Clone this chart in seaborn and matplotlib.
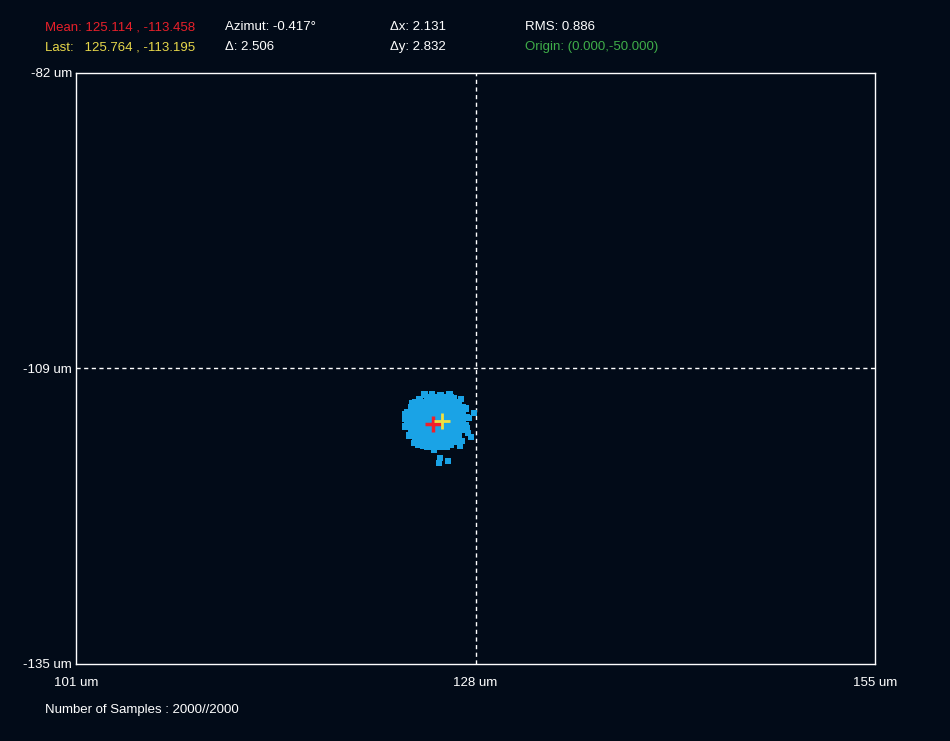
import matplotlib
matplotlib.use("Agg")
import matplotlib.pyplot as plt
import seaborn as sns
import pandas as pd

# ---- data ----
rows_y = [-111.06, -111.50, -111.95, -112.40, -112.85, -113.30,
          -113.75, -114.20, -114.64, -115.09, -115.54]
rows_x = [
    [124.72, 124.99, 125.26, 125.53, 125.80, 126.07, 126.34],
    [123.91, 124.18, 124.45, 124.72, 124.99, 125.26, 125.53, 125.80, 126.07, 126.34, 126.61, 126.88],
    [123.64, 123.91, 124.18, 124.45, 124.72, 124.99, 125.26, 125.53, 125.80, 126.07, 126.34, 126.61, 126.88, 127.15],
    [123.37, 123.64, 123.91, 124.18, 124.45, 124.72, 124.99, 125.26, 125.53, 125.80, 126.07, 126.34, 126.61, 126.88, 127.15],
    [123.37, 123.64, 123.91, 124.18, 124.45, 124.72, 124.99, 125.26, 125.53, 125.80, 126.07, 126.34, 126.61, 126.88, 127.15, 127.42],
    [123.37, 123.64, 123.91, 124.18, 124.45, 124.72, 124.99, 125.26, 125.53, 125.80, 126.07, 126.34, 126.61, 126.88, 127.15],
    [123.64, 123.91, 124.18, 124.45, 124.72, 124.99, 125.26, 125.53, 125.80, 126.07, 126.34, 126.61, 126.88, 127.15],
    [123.64, 123.91, 124.18, 124.45, 124.72, 124.99, 125.26, 125.53, 125.80, 126.07, 126.34, 126.61, 126.88],
    [123.91, 124.18, 124.45, 124.72, 124.99, 125.26, 125.53, 125.80, 126.07, 126.34, 126.61, 126.88],
    [124.18, 124.45, 124.72, 124.99, 125.26, 125.53, 125.80, 126.07, 126.34, 126.61],
    [124.72, 124.99, 125.26, 125.53, 125.80, 126.07],
]
edge_x = [124.55, 125.05, 125.65, 126.25, 126.55, 123.70, 124.20, 123.23, 123.23, 123.50,
          127.32, 127.40, 127.05, 126.95, 124.45, 124.10, 126.35, 126.80, 125.20, 127.55]
edge_y = [-110.85, -110.80, -110.90, -110.80, -111.20, -111.60, -111.25, -112.60, -113.70, -114.50,
          -112.10, -113.90, -115.00, -115.40, -115.45, -115.30, -115.35, -114.80, -115.75, -112.95]
outlier_x = [127.02, 127.90, 127.49, 127.69, 123.84, 125.60, 126.14, 125.53, 123.23, 127.15, 127.35]
outlier_y = [-111.24, -112.49, -114.28, -114.64, -115.18, -116.53, -116.80, -116.98, -113.00, -114.02, -113.60]

mean_xy = (125.114, -113.458)
last_xy = (125.764, -113.195)
x_limits = (101, 155)
y_limits = (-135, -82)
x_ticks = [101, 128, 155]
x_labels = ["101 um", "128 um", "155 um"]
y_ticks = [-135, -108.5, -82]
y_labels = ["-135 um", "-109 um", "-82 um"]
stats_text = [
    ("Mean: 125.114 , -113.458", "#e8202a"), ("Last:   125.764 , -113.195", "#e8d84a"),
    ("Azimut: -0.417°", "white"), ("Δ: 2.506", "white"),
    ("Δx: 2.131", "white"), ("Δy: 2.832", "white"),
    ("RMS: 0.886", "white"), ("Origin: (0.000,-50.000)", "#3fae49"),
]
footer = "Number of Samples : 2000//2000"

# ---- build table ----
xs, ys = [], []
for yv, row in zip(rows_y, rows_x):
    for xv in row:
        xs.append(xv)
        ys.append(yv)
xs += edge_x + outlier_x
ys += edge_y + outlier_y
df = pd.DataFrame({"x": xs, "y": ys})

bg = "#020b18"
sns.set_theme(style="dark")
plt.rcParams["font.family"] = ["Liberation Sans", "DejaVu Sans"]

fig = plt.figure(figsize=(9.5, 7.41), dpi=100, facecolor=bg)
ax = fig.add_axes([76 / 950, 1 - 664 / 741, 799 / 950, 591 / 741])
ax.set_facecolor(bg)

sns.scatterplot(data=df, x="x", y="y", ax=ax, marker="s", s=22,
                color="#1aa3e6", edgecolor="none", linewidth=0, zorder=3)

ax.plot([mean_xy[0]], [mean_xy[1]], marker="+", color="#f0202a",
        markersize=12, markeredgewidth=2.5, zorder=5)
ax.plot([last_xy[0]], [last_xy[1]], marker="+", color="#f0e040",
        markersize=12, markeredgewidth=2.0, zorder=6)

ax.axvline(x_ticks[1], color="white", lw=1, ls=(0, (3, 2.5)), zorder=2)
ax.axhline(y_ticks[1], color="white", lw=1, ls=(0, (3, 2.5)), zorder=2)

ax.set_xlim(*x_limits)
ax.set_ylim(*y_limits)
ax.set_xticks(x_ticks)
ax.set_xticklabels(x_labels)
ax.set_yticks(y_ticks)
ax.set_yticklabels(y_labels)
ax.tick_params(axis="both", length=0, colors="white", labelsize=9.5)
ax.tick_params(axis="x", pad=9)
ax.tick_params(axis="y", pad=3)
ax.grid(False)
ax.set_xlabel("")
ax.set_ylabel("")
for sp in ax.spines.values():
    sp.set_visible(True)
    sp.set_color("white")
    sp.set_linewidth(1)

# header
cols = [45, 45, 225, 225, 390, 390, 525, 525]
rws = [27, 47, 27, 47, 27, 47, 27, 47]
for (t, c), px, py in zip(stats_text, cols, rws):
    fig.text(px / 950, 1 - py / 741, t, color=c, fontsize=9.5, ha="left", va="center")
fig.text(45 / 950, 1 - 710 / 741, footer, color="white", fontsize=9.5, ha="left", va="center")

fig.savefig("out.png", dpi=100, facecolor=bg)
